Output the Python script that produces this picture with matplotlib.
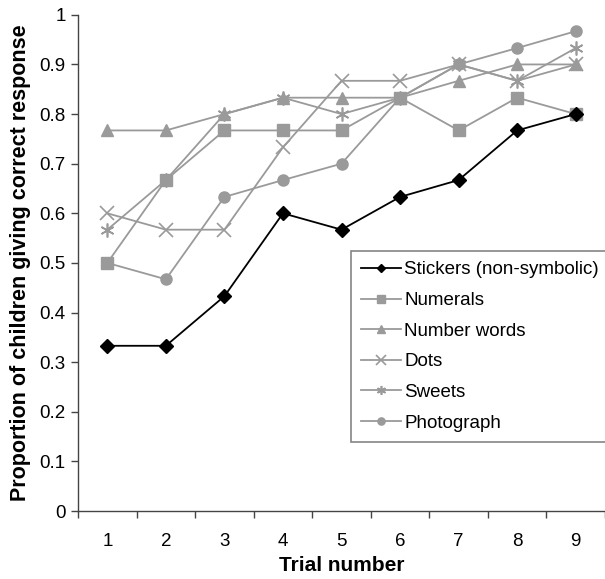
import numpy as np
import matplotlib
matplotlib.use("Agg")
import matplotlib.pyplot as plt

plt.rcParams['font.family'] = ['Liberation Sans', 'DejaVu Sans']

# Data (proportions, n = 30 per trial)
trials = [1, 2, 3, 4, 5, 6, 7, 8, 9]
stickers = [0.333, 0.333, 0.433, 0.600, 0.567, 0.633, 0.667, 0.767, 0.800]
numerals = [0.500, 0.667, 0.767, 0.767, 0.767, 0.833, 0.767, 0.833, 0.800]
number_words = [0.767, 0.767, 0.800, 0.833, 0.833, 0.833, 0.867, 0.900, 0.900]
dots = [0.600, 0.567, 0.567, 0.733, 0.867, 0.867, 0.900, 0.867, 0.900]
sweets = [0.567, 0.667, 0.800, 0.833, 0.800, 0.833, 0.900, 0.867, 0.933]
photograph = [0.500, 0.467, 0.633, 0.667, 0.700, 0.833, 0.900, 0.933, 0.967]

y_ticks = [0, 0.1, 0.2, 0.3, 0.4, 0.5, 0.6, 0.7, 0.8, 0.9, 1]
y_tick_labels = ['0', '0.1', '0.2', '0.3', '0.4', '0.5', '0.6', '0.7', '0.8', '0.9', '1']

grey = '#9a9a9a'

fig = plt.figure(figsize=(6.05, 5.79), dpi=100)
ax = fig.add_axes([0.129, 0.1174, 0.871, 0.857])

ax.plot(trials, stickers, color='black', lw=1.3, marker='D', ms=7,
        label='Stickers (non-symbolic)', zorder=5)
ax.plot(trials, numerals, color=grey, lw=1.3, marker='s', ms=8,
        label='Numerals')
ax.plot(trials, number_words, color=grey, lw=1.3, marker='^', ms=9,
        label='Number words')
ax.plot(trials, dots, color=grey, lw=1.3, marker='x', ms=10, mew=1.2,
        label='Dots')
ax.plot(trials, sweets, color=grey, lw=1.3, marker=(6, 2, 0), ms=10, mew=1.2,
        label='Sweets')
ax.plot(trials, photograph, color=grey, lw=1.3, marker='o', ms=8,
        label='Photograph')

ax.set_xlim(0.5, 9.5)
ax.set_ylim(0, 1)
ax.set_xticks(trials)
ax.set_xticklabels([str(t) for t in trials], fontsize=13.5)
ax.set_xticks(np.arange(0.5, 10, 1), minor=True)
ax.tick_params(axis='x', which='major', length=0, pad=16)
ax.tick_params(axis='x', which='minor', length=5, width=1, color='#444444')
ax.set_yticks(y_ticks)
ax.set_yticklabels(y_tick_labels, fontsize=13.5)
ax.tick_params(axis='y', length=5, width=1, color='#444444', pad=4)

for side in ['top', 'right']:
    ax.spines[side].set_visible(False)
for side in ['left', 'bottom']:
    ax.spines[side].set_color('#444444')
    ax.spines[side].set_linewidth(1)

ax.set_xlabel('Trial number', fontsize=15, fontweight='bold', labelpad=4)
ax.set_ylabel('Proportion of children giving correct response', fontsize=15.5,
              fontweight='bold', labelpad=6)

leg = ax.legend(loc='upper left', bbox_to_anchor=(351 / 605, 1 - 251 / 579),
                bbox_transform=fig.transFigure, fontsize=13.5, frameon=True,
                fancybox=False, edgecolor='#666666', handlelength=2.1,
                labelspacing=0.72, borderpad=0.55, handletextpad=0.2,
                borderaxespad=0, markerscale=0.65)
leg.get_frame().set_linewidth(1.2)

fig.savefig('out.png', dpi=100)
